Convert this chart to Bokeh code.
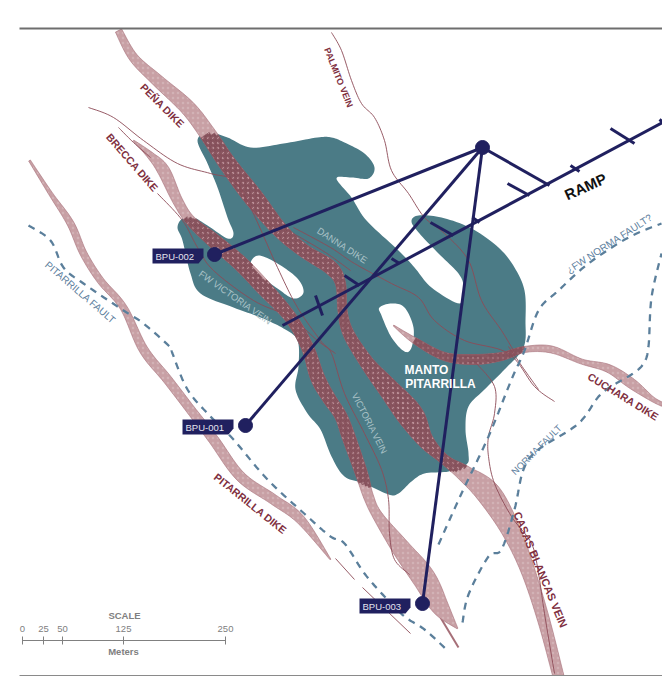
from bokeh.plotting import figure
from bokeh.embed import file_html
from bokeh.resources import INLINE
from bokeh.core.properties import value
import numpy as np
import math

# ---- map data, in reference picture coordinates ----
MANTO = [(197,140),(208,132),(227,137),(250,147),(283,143),(317,137),(331,137),(344,142),(364,153),(374,167),(368,178),
         (351,177),(336,178),(351,197),(366,220),(398,250),(414,267),(431,287),(459,303),(463,287),(458,273),(438,253),
         (419,233),(411,221),(418,215),(441,217),(471,228),(498,247),(514,267),(524,290),(525,320),(523,347),(504,369),
         (484,389),(468,406),(465,429),(468,453),(466,464),(448,471),(424,473),(411,481),(398,493),(388,494),(364,483),
         (344,476),(331,456),(320,429),(307,413),(295,389),(298,366),(297,340),(283,328),(260,317),(233,307),(200,293),
         (190,273),(182,240),(177,227),(182,218),(193,217),(207,225),(227,238),(233,233),(227,217),(217,187),(207,163)]
HOLE_A = [(250,263),(258,255),(277,263),(297,278),(303,292),(293,298),(277,288),(257,273)]
HOLE_B = [(379,307),(391,303),(404,307),(413,327),(411,347),(404,351),(391,337),(381,315)]

PENA_X = [118,133,157,187,207,227,253,280,303,330,340,342,348,367,387,410,425,444,464,488,510,527,543,558]
PENA_Y = [30,57,80,107,133,163,197,230,250,267,283,310,333,363,387,415,440,459,473,493,529,569,619,676]
PENA_W = [7,9,12,15,16,17,19,15,13,14,10,9,11,14,20,26,16,10,16,24,19,14,12,11]

BRECCA_X = [133,150,163,177,190,213,240,263,290,307,317,328,340,348,361,368,377,400,423,440,457]
BRECCA_Y = [140,155,170,200,220,240,263,287,317,347,377,397,415,436,473,496,515,547,577,607,628]
BRECCA_W = [1,7,12,10,10,14,15,15,12,12,14,13,12,13,12,10,10,18,23,17,1]

PITDIKE_X = [29,50,70,83,100,123,143,167,190,213,240,273,300,330]
PITDIKE_Y = [160,193,223,253,280,307,349,379,409,439,476,499,519,559]
PITDIKE_W = [2,4,7,7,7,7,9,9,9,10,10,10,9,1]

CUCHARA_X = [393,414,444,474,501,524,551,581,608,631,651,662]
CUCHARA_Y = [325,340,356,359,356,349,349,361,368,383,398,404]
CUCHARA_W = [1,6,8,10,8,6,7,5,8,10,5,4]

BRECCA_FORK = [(440,617),(458,647)]

VEINS = [
 [(331,32),(341,50),(351,80),(361,103),(374,117),(384,140),(391,170),(408,193),(424,217),(444,233),(468,260),(481,300),(501,330),(513,350)],
 [(476,363),(494,386),(494,413),(488,436),(488,456),(494,483),(511,516),(531,543),(538,573),(544,613),(554,673)],
 [(157,193),(182,220),(197,247),(213,270),(253,300),(290,317),(317,340),(335,353)],
 [(88,107),(113,117),(143,140),(177,163),(210,173),(233,180),(250,207),(277,267),(297,307),(320,340),(331,353),(344,393),(364,433),(381,469),(388,499),(389,533),(394,559),(409,574)],
 [(293,227),(330,247),(354,263),(391,283),(418,297),(434,320),(464,340),(508,353),(534,386),(554,401)],
 [(293,233),(325,252),(350,270)],
 [(508,346),(523,368),(538,389)],
 [(118,127),(133,142),(150,157)],
 [(335,558),(354,579)],
 [(362,587),(410,633)],
]

FAULTS = [
 [(28,225),(50,240),(63,267),(83,283),(123,310),(143,323),(170,347),(172,353),(187,389),(210,416),(233,439),(267,479),(307,516),(330,536),(344,543),(364,573),(384,596),(404,616),(424,629),(446,649)],
 [(438,544),(461,493),(488,436),(511,379),(524,350),(538,310),(558,290),(588,263),(628,237),(661,223)],
 [(462,622),(468,594),(488,556),(501,549),(514,509),(523,469),(538,449),(578,423),(601,393),(631,374),(643,363),(648,346),(651,297),(661,253)],
]

HUB = (482,147)
COLLARS = [(214,254),(245,425),(422,603)]
COLLAR_NAMES = ["BPU-002","BPU-001","BPU-003"]
COLLAR_BOX_X = [152,182,359]
COLLAR_BOX_Y = [248,419,598]
RAMP = [(282,325),(662,122)]
RAMP_BRANCHES = [[(482,147),(549,185)],[(507,183),(529,195)],[(570,165),(579,171)],[(610,128),(634,143)],[(659,119),(664,123)],
                 [(430,222),(453,235)],[(391,258),(399,263)],[(344,275),(359,285)],[(315,295),(322,315)],[(472,217),(479,222)]]

LABELS = [
 ("PEÑA DIKE",162,105,-45,10.5,"#80303f","bold"),
 ("BRECCA DIKE",132,162,-49,10.5,"#80303f","bold"),
 ("PITARRILLA DIKE",250,503,-38.7,10.5,"#80303f","bold"),
 ("CUCHARA DIKE",623,396,-31.5,10.5,"#80303f","bold"),
 ("CASAS BLANCAS VEIN",540,569,-67.6,11,"#80303f","bold"),
 ("PALMITO VEIN",338,77,-68,9,"#80303f","bold"),
 ("PITARRILLA FAULT",80,292,-40.6,10,"#5f82a0","normal"),
 ("¿FW NORMA FAULT?",609,243,33,10,"#5f82a0","normal"),
 ("NORMA FAULT",536,449,45,9.5,"#5f82a0","normal"),
 ("FW VICTORIA VEIN",235,297,-35,9.5,"#aac2c6","normal"),
 ("DANNA DIKE",342,245,-33,9.5,"#aac2c6","normal"),
 ("VICTORIA VEIN",369,423,-63,9.2,"#aac2c6","normal"),
 ("RAMP",585,186,24,15,"#111111","bold"),
 ("MANTO",426,369,0,12,"#ffffff","bold"),
 ("PITARRILLA",440,383,0,12,"#ffffff","bold"),
 ("SCALE",124,615,0,9.5,"#808080","bold"),
 ("Meters",123,651,0,9.5,"#808080","bold"),
]
SCALE_TICKS = [0,25,50,125,250]
SCALE_X = [22,43,62,123,225]
SCALE_Y = 640
RULE_TOP = 28
RULE_BOTTOM = 675

TEAL="#4b7b86"; NAVY="#20205f"; DIKE="#c8a0a5"; DIKE_EDGE="#a66f78"; DARK="#85505b"; VEIN="#8d4a57"; BLUE="#5b7f9b"

# ---- helpers ----
def smooth(pts, closed=False, n=10):
    P=list(pts); out=[]; N=len(P)
    rng = range(N) if closed else range(N-1)
    for i in rng:
        if closed:
            p0,p1,p2,p3=P[(i-1)%N],P[i],P[(i+1)%N],P[(i+2)%N]
        else:
            p0,p1,p2,p3=P[max(i-1,0)],P[i],P[i+1],P[min(i+2,N-1)]
        for t in np.linspace(0,1,n,endpoint=False):
            out.append(tuple(0.5*((2*a1)+(-a0+a2)*t+(2*a0-5*a1+4*a2-a3)*t*t+(-a0+3*a1-3*a2+a3)*t**3) for a0,a1,a2,a3 in zip(p0,p1,p2,p3)))
    if not closed: out.append(P[-1])
    return out

def inside(pt, poly):
    x,y=pt; c=False; n=len(poly)
    for i in range(n):
        x1,y1=poly[i]; x2,y2=poly[(i+1)%n]
        if (y1>y)!=(y2>y) and x<(x2-x1)*(y-y1)/(y2-y1)+x1:
            c=not c
    return c

manto_s=smooth(MANTO,True); hole_a=smooth(HOLE_A,True); hole_b=smooth(HOLE_B,True)
def in_teal(q): return inside(q,manto_s) and not inside(q,hole_a) and not inside(q,hole_b)

def strip(xs,ys,ws,n=10):
    c=smooth(list(zip(xs,ys,ws)),False,n)
    c=np.array(c); pts=c[:,:2]; w=np.maximum(c[:,2],0.5)
    d=np.gradient(pts,axis=0); d/=np.maximum(np.linalg.norm(d,axis=1,keepdims=True),1e-6)
    nrm=np.stack([-d[:,1],d[:,0]],axis=1)
    return pts,w,nrm

p=figure(width=662,height=676,x_range=(0,662),y_range=(676,0),output_backend="svg",toolbar_location=None,
         min_border=0,x_axis_location=None,y_axis_location=None,outline_line_color=None,background_fill_color="white")
p.grid.visible=False

p.patch([a for a,b in manto_s],[b for a,b in manto_s],fill_color=TEAL,line_color=None)
for h in (hole_a,hole_b):
    p.patch([a for a,b in h],[b for a,b in h],fill_color="white",line_color=None)

p.line([BRECCA_FORK[0][0],BRECCA_FORK[1][0]],[BRECCA_FORK[0][1],BRECCA_FORK[1][1]],line_color=DIKE_EDGE,line_width=2)
for xs,ys,ws in [(PENA_X,PENA_Y,PENA_W),(BRECCA_X,BRECCA_Y,BRECCA_W),(PITDIKE_X,PITDIKE_Y,PITDIKE_W),(CUCHARA_X,CUCHARA_Y,CUCHARA_W)]:
    pts,w,nrm=strip(xs,ys,ws)
    L=pts+nrm*w[:,None]/2; R=pts-nrm*w[:,None]/2
    poly=np.vstack([L,R[::-1]])
    p.patch(poly[:,0],poly[:,1],fill_color=DIKE,line_color=DIKE_EDGE,line_width=0.6,
            hatch_pattern="dot",hatch_color="#d9bcc0",hatch_scale=5,hatch_alpha=0.6)
    # the part of the dike that crosses the manto is darker
    lanes=8
    for k in range(lanes):
        a=-0.5+k/lanes; b=a+1/lanes
        A=pts+nrm*(w*a)[:,None]; B=pts+nrm*(w*b)[:,None]
        flags=[in_teal(tuple(v)) for v in (A+B)/2]
        i=0
        while i<len(flags):
            if flags[i]:
                j=i
                while j+1<len(flags) and flags[j+1]: j+=1
                q=np.vstack([A[i:j+2],B[i:j+2][::-1]])
                p.patch(q[:,0],q[:,1],fill_color=DARK,line_color=DARK,line_width=0.5,
                        hatch_pattern="dot",hatch_color="#c9a0a6",hatch_scale=5,hatch_alpha=0.8)
                i=j+1
            else:
                i+=1

for v in VEINS:
    s=smooth(v) if len(v)>2 else v
    p.line([a for a,b in s],[b for a,b in s],line_color=VEIN,line_width=1,line_alpha=0.9)

for f in FAULTS:
    s=smooth(f)
    p.line([a for a,b in s],[b for a,b in s],line_color=BLUE,line_width=2.3,line_dash="7 6")

# drill traces and ramp
p.line([RAMP[0][0],RAMP[1][0]],[RAMP[0][1],RAMP[1][1]],line_color=NAVY,line_width=3)
for b in RAMP_BRANCHES:
    p.line([b[0][0],b[1][0]],[b[0][1],b[1][1]],line_color=NAVY,line_width=3)
for c in COLLARS:
    p.line([HUB[0],c[0]],[HUB[1],c[1]],line_color=NAVY,line_width=3)
p.scatter([HUB[0]]+[c[0] for c in COLLARS],[HUB[1]]+[c[1] for c in COLLARS],size=14,color=NAVY,marker="circle")

for name,bx,by in zip(COLLAR_NAMES,COLLAR_BOX_X,COLLAR_BOX_Y):
    p.patch([bx,bx+51,bx+51,bx+46,bx],[by,by,by+9,by+15,by+15],fill_color=NAVY,line_color=None)
    p.text([bx+3],[by+8],text=[name],text_color="#e4e2ee",text_font=value("Liberation Sans"),
           text_font_size="9.5px",text_baseline="middle",text_align="left")

for t,x,y,ang,size,col,style in LABELS:
    p.text([x],[y],text=[t],angle=[math.radians(ang)],text_color=col,text_font=value("Liberation Sans"),
           text_font_size=f"{size}px",text_font_style=style,text_align="center",text_baseline="middle")

# scale bar
p.line([SCALE_X[0],SCALE_X[-1]],[SCALE_Y,SCALE_Y],line_color="#808080",line_width=1)
for x,t in zip(SCALE_X,SCALE_TICKS):
    p.line([x,x],[SCALE_Y-4,SCALE_Y+4],line_color="#808080",line_width=1)
    p.text([x],[SCALE_Y-12],text=[str(t)],text_color="#808080",text_font=value("Liberation Sans"),
           text_font_size="9.5px",text_align="center",text_baseline="middle")

p.line([19,662],[RULE_TOP,RULE_TOP],line_color="#6e6e6e",line_width=2)
p.line([19,662],[RULE_BOTTOM,RULE_BOTTOM],line_color="#8a8a8a",line_width=1)

open("out.html","w").write(file_html(p,INLINE))
